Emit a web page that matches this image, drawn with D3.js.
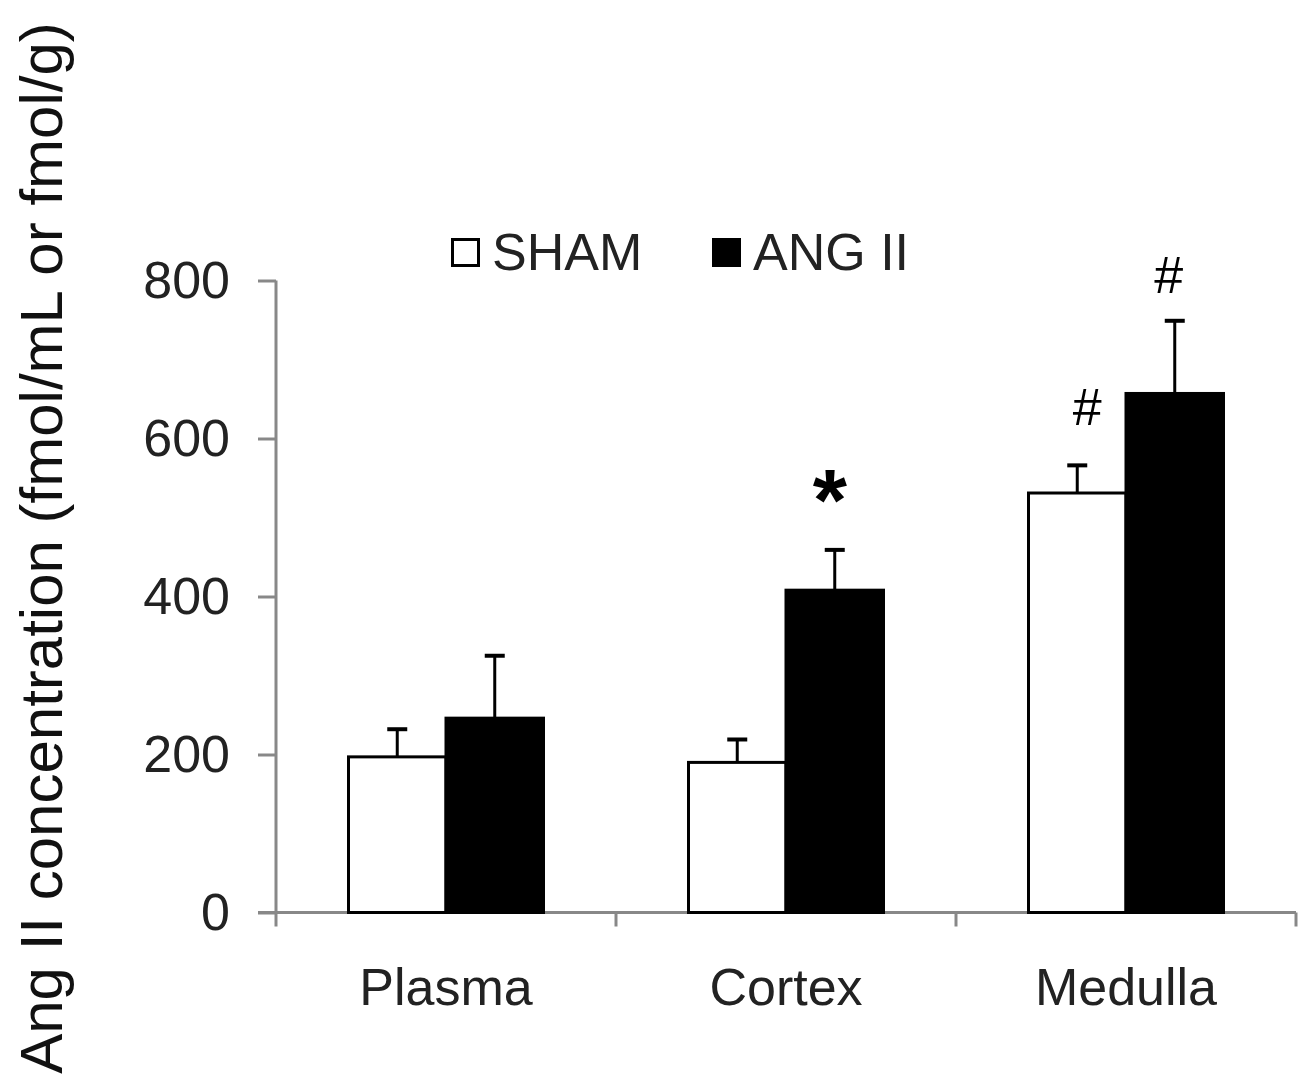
<!DOCTYPE html>
<html>
<head>
<meta charset="utf-8">
<script src="https://cdn.jsdelivr.net/npm/d3@7"></script>
<style>
  body { margin: 0; background: #fff; }
  text { font-family: "Liberation Sans", Arial, sans-serif; }
</style>
</head>
<body>
<div id="chart"></div>
<script>
  /* data */
  var categories = ["Plasma", "Cortex", "Medulla"]
  var groups = ["SHAM", "ANG II"]
  var shamValues = [197, 190, 531]
  var shamErrors = [35, 29, 35]
  var angValues = [246, 408, 657]
  var angErrors = [79, 51, 92]
  var shamMarks = ["", "", "#"]
  var angMarks = ["", "*", "#"]
  var yTicks = [0, 200, 400, 600, 800]

  var w = 1308, h = 1089

  var svg = d3.select("#chart").append("svg")
      .attr("width", w)
      .attr("height", h)

  var y = d3.scaleLinear().domain([0, 800]).range([912.5, 280.5])
  var x = d3.scaleBand().domain(categories).range([276, 1296]).padding(0)
  var barW = 97.5
  var x1 = d3.scaleBand().domain(groups)
      .range([x.bandwidth() / 2 - barW, x.bandwidth() / 2 + barW])

  var rows = []
  categories.forEach(function (c, i) {
    rows.push({ cat: c, g: "SHAM", v: shamValues[i], e: shamErrors[i], m: shamMarks[i] })
    rows.push({ cat: c, g: "ANG II", v: angValues[i], e: angErrors[i], m: angMarks[i] })
  })

  /* axe Y */
  var yAxis = svg.append("g")
      .attr("transform", "translate(276,0)")
      .call(d3.axisLeft(y).tickValues(yTicks).tickSize(18).tickPadding(28))
  yAxis.select(".domain").attr("stroke", "#888").attr("stroke-width", 3)
      .attr("d", "M0," + y(800) + "V" + y(0))
  yAxis.selectAll(".tick line").attr("stroke", "#888").attr("stroke-width", 3)
  yAxis.selectAll(".tick text")
      .attr("font-size", 52)
      .attr("fill", "#222")
      .attr("dy", "0.33em")

  /* axe X */
  var xAxis = svg.append("g")
      .attr("transform", "translate(0," + y(0) + ")")
  xAxis.append("line")
      .attr("x1", 258).attr("x2", 1296)
      .attr("stroke", "#888").attr("stroke-width", 3)
  var bounds = categories.map(function (c) { return x(c) }).concat([x.range()[1]])
  xAxis.selectAll("line.tk").data(bounds).enter().append("line")
      .attr("class", "tk")
      .attr("x1", function (d) { return d }).attr("x2", function (d) { return d })
      .attr("y1", 0).attr("y2", 14)
      .attr("stroke", "#888").attr("stroke-width", 3)
  xAxis.selectAll("text").data(categories).enter().append("text")
      .attr("x", function (c) { return x(c) + x.bandwidth() / 2 })
      .attr("y", 92)
      .attr("text-anchor", "middle")
      .attr("font-size", 52)
      .attr("fill", "#222")
      .text(function (c) { return c })

  /* barres */
  svg.selectAll("rect.bar").data(rows).enter().append("rect")
      .attr("class", "bar")
      .attr("x", function (d) { return x(d.cat) + x1(d.g) })
      .attr("y", function (d) { return y(d.v) })
      .attr("width", x1.bandwidth())
      .attr("height", function (d) { return y(0) - y(d.v) })
      .attr("fill", function (d) { return d.g === "SHAM" ? "#fff" : "#000" })
      .attr("stroke", "#000")
      .attr("stroke-width", 3)

  /* barres d'erreur */
  var cx = function (d) { return x(d.cat) + x1(d.g) + x1.bandwidth() / 2 }
  svg.selectAll("line.err").data(rows).enter().append("line")
      .attr("class", "err")
      .attr("x1", cx).attr("x2", cx)
      .attr("y1", function (d) { return y(d.v) })
      .attr("y2", function (d) { return y(d.v + d.e) })
      .attr("stroke", "#000").attr("stroke-width", 3)
  svg.selectAll("line.cap").data(rows).enter().append("line")
      .attr("class", "cap")
      .attr("x1", function (d) { return cx(d) - 10 })
      .attr("x2", function (d) { return cx(d) + 10 })
      .attr("y1", function (d) { return y(d.v + d.e) })
      .attr("y2", function (d) { return y(d.v + d.e) })
      .attr("stroke", "#000").attr("stroke-width", 4)

  /* marques de significativite */
  var markGap = function (d) {
    if (d.m === "*") return 20
    return d.g === "SHAM" ? 40 : 28
  }
  var markShift = function (d) {
    if (d.m === "*") return -5
    return d.g === "SHAM" ? 10 : -6
  }
  svg.selectAll("text.mark").data(rows.filter(function (d) { return d.m !== "" })).enter()
      .append("text")
      .attr("class", "mark")
      .attr("x", function (d) { return cx(d) + markShift(d) })
      .attr("y", function (d) { return y(d.v + d.e) - markGap(d) })
      .attr("text-anchor", "middle")
      .attr("font-size", function (d) { return d.m === "*" ? 88 : 52 })
      .attr("font-weight", function (d) { return d.m === "*" ? "bold" : "normal" })
      .attr("fill", "#000")
      .text(function (d) { return d.m })

  /* legende */
  var leg = svg.append("g")
  var legX = [451, 712]
  groups.forEach(function (g, i) {
    leg.append("rect")
        .attr("x", legX[i] + 1.5).attr("y", 239.5)
        .attr("width", 26).attr("height", 26)
        .attr("fill", g === "SHAM" ? "#fff" : "#000")
        .attr("stroke", "#000").attr("stroke-width", 3)
    leg.append("text")
        .attr("x", legX[i] + 41).attr("y", 270)
        .attr("font-size", 52)
        .attr("fill", "#222")
        .text(g)
  })

  /* titre axe Y */
  svg.append("text")
      .attr("transform", "translate(62,548) rotate(-90)")
      .attr("text-anchor", "middle")
      .attr("font-size", 60)
      .attr("fill", "#111")
      .text("Ang II concentration (fmol/mL or fmol/g)")
</script>
</body>
</html>
